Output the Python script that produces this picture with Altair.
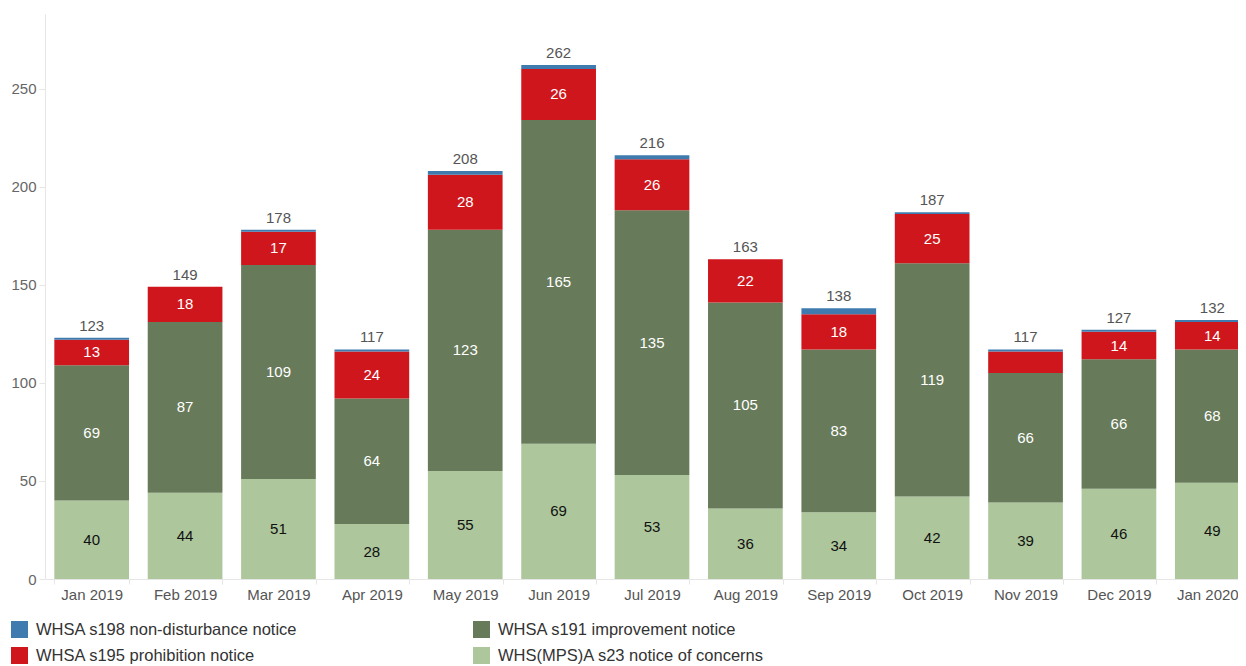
import altair as alt
import pandas as pd

months = ["Jan 2019", "Feb 2019", "Mar 2019", "Apr 2019", "May 2019", "Jun 2019",
          "Jul 2019", "Aug 2019", "Sep 2019", "Oct 2019", "Nov 2019", "Dec 2019", "Jan 2020"]

s23_name = "WHS(MPS)A s23 notice of concerns"
s191_name = "WHSA s191 improvement notice"
s195_name = "WHSA s195 prohibition notice"
s198_name = "WHSA s198 non-disturbance notice"

s23 = [40, 44, 51, 28, 55, 69, 53, 36, 34, 42, 39, 46, 49]
s191 = [69, 87, 109, 64, 123, 165, 135, 105, 83, 119, 66, 66, 68]
s195 = [13, 18, 17, 24, 28, 26, 26, 22, 18, 25, 11, 14, 14]
s198 = [1, 0, 1, 1, 2, 2, 2, 0, 3, 1, 1, 1, 1]

y_ticks = [0, 50, 100, 150, 200, 250]

# legend order (row-major, 2 columns) and colours
legend_domain = [s198_name, s191_name, s195_name, s23_name]
legend_range = ["#3F7BAE", "#677A59", "#CF161D", "#ADC69C"]

rows = []
for i, m in enumerate(months):
    for order, (name, vals) in enumerate([(s23_name, s23), (s191_name, s191),
                                          (s195_name, s195), (s198_name, s198)]):
        rows.append({"month": m, "series": name, "value": vals[i], "stackorder": order})
df = pd.DataFrame(rows)

x_enc = alt.X("month:N", sort=months,
              scale=alt.Scale(paddingInner=0.2, paddingOuter=0.1, range=[0, 1214]),
              axis=alt.Axis(title=None, labelAngle=0, tickBand="extent",
                            labelOffset={"condition": {"test": "datum.label == 'Jan 2020'",
                                                       "value": -5},
                                         "value": 0}))
y_scale = alt.Scale(domain=[0, 288], nice=False)

bars = alt.Chart(df).mark_bar().encode(
    x=x_enc,
    y=alt.Y("value:Q", stack="zero", scale=y_scale,
            axis=alt.Axis(title=None, values=y_ticks, grid=False)),
    color=alt.Color("series:N", scale=alt.Scale(domain=legend_domain, range=legend_range),
                    legend=alt.Legend(title=None, orient="none", direction="horizontal",
                                      columns=2, legendX=-34, legendY=607,
                                      symbolType="square", symbolSize=289,
                                      symbolStrokeWidth=0, symbolOpacity=1,
                                      labelFontSize=16.5, labelColor="#333",
                                      labelOffset=8, rowPadding=9, columnPadding=175,
                                      labelLimit=400)),
    order=alt.Order("stackorder:Q", sort="ascending"),
)

seg_labels = alt.Chart(df).transform_stack(
    stack="value", groupby=["month"], as_=["v0", "v1"],
    sort=[alt.SortField("stackorder", order="ascending")]
).transform_calculate(
    mid="(datum.v0 + datum.v1) / 2"
).transform_filter(
    "datum.value >= 12"
).mark_text(fontSize=15, baseline="middle").encode(
    x=x_enc,
    y=alt.Y("mid:Q", scale=y_scale),
    text=alt.Text("value:Q"),
    color=alt.condition("datum.stackorder == 0", alt.value("#111111"), alt.value("#ffffff")),
)

totals = alt.Chart(df).transform_aggregate(
    total="sum(value)", groupby=["month"]
).mark_text(fontSize=15, baseline="bottom", dy=-4, color="#555555").encode(
    x=x_enc,
    y=alt.Y("total:Q", scale=y_scale),
    text=alt.Text("total:Q"),
)

chart = alt.layer(bars, seg_labels, totals).properties(
    width=1193, height=565,
    autosize=alt.AutoSizeParams(type="none"),
    padding={"left": 37, "top": 6, "right": 0, "bottom": 90},
).configure(
    font="Liberation Sans",
).configure_view(
    stroke=None,
).configure_axisY(
    domainColor="#e6e6e6", tickColor="#e6e6e6", tickSize=6, labelPadding=3,
    labelColor="#666666", labelFontSize=15,
).configure_axisX(
    domainColor="#e6e6e6", tickColor="#e6e6e6", tickSize=5, labelPadding=3,
    labelColor="#555555", labelFontSize=15,
).configure_legend(
    padding=0,
)

chart.save("out.html", embed_options={"renderer": "svg", "actions": False})
